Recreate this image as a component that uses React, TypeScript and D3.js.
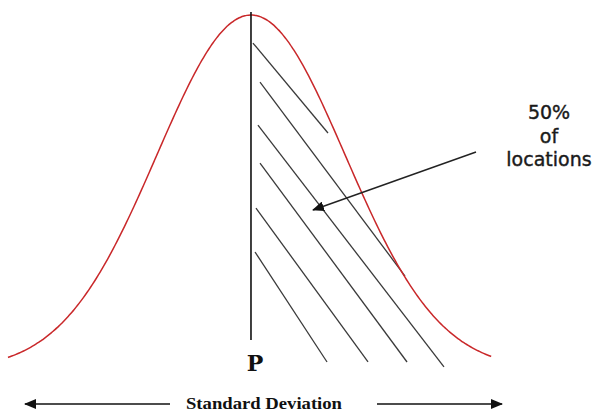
import React from 'react';
import * as d3 from 'd3';

// normal curve, in standard deviations
const MEAN = 0;
const SD = 1;
const X_EXTENT = [-2.585, 2.564];

// hatch strokes: [x0 (sd), y0 (density), x1 (sd), y1 (density)]
const hatchLines: [number, number, number, number][] = [
    [0.021, 0.3674, 0.819, 0.2663],
    [0.096, 0.3236, 1.638, 0.1056],
    [0.074, 0.2753, 2.053, 0.0034],
    [0.096, 0.2326, 1.66, 0.009],
    [0.053, 0.182, 1.245, 0.009],
    [0.043, 0.1326, 0.809, 0.009],
];

const calloutLines = ['50%', 'of', 'locations'];
const markerLabel = 'P';
const axisLabel = 'Standard Deviation';

const W = 599;
const H = 416;

const pdf = (x: number) =>
    Math.exp(-((x - MEAN) ** 2) / (2 * SD * SD)) / (SD * Math.sqrt(2 * Math.PI));

export default function App() {
    const x = d3.scaleLinear().domain(X_EXTENT).range([8, 492]);
    const y = d3.scaleLinear().domain([0, pdf(MEAN)]).range([370, 15]);

    const pts = d3.range(X_EXTENT[0], X_EXTENT[1] + 0.001, 0.02).map(v => [v, pdf(v)] as [number, number]);
    const line = d3.line<[number, number]>()
        .x(d => x(d[0]))
        .y(d => y(d[1]))
        .curve(d3.curveBasis);

    const cx = x(MEAN);

    return (
        <div style={{ position: 'absolute', left: 0, top: 0, width: W, height: H, background: '#fff', overflow: 'hidden' }}>
            <svg width={W} height={H} style={{ display: 'block' }}>
                <defs>
                    <marker id="head" viewBox="0 0 12 10" refX="11" refY="5"
                        markerWidth="12" markerHeight="10" markerUnits="userSpaceOnUse" orient="auto">
                        <path d="M0,0 L12,5 L0,10 Z" fill="#111" />
                    </marker>
                </defs>

                {hatchLines.map((h, i) => (
                    <line key={i}
                        x1={x(h[0])} y1={y(h[1])} x2={x(h[2])} y2={y(h[3])}
                        stroke="#3a3a3a" strokeWidth={1.3} />
                ))}

                <path d={line(pts) || ''} fill="none" stroke="#c9282a" strokeWidth={1.5} />

                <line x1={cx} x2={cx} y1={12} y2={340} stroke="#111" strokeWidth={1.6} />

                <text x={cx + 4} y={371} textAnchor="middle"
                    fontFamily="'DejaVu Serif', serif" fontWeight="bold" fontSize={22} fill="#111">
                    {markerLabel}
                </text>

                {/* callout */}
                <line x1={476} y1={152} x2={313} y2={210} stroke="#222" strokeWidth={1.4} markerEnd="url(#head)" />
                {calloutLines.map((t, i) => (
                    <text key={t} x={549} y={119 + i * 23.5} textAnchor="middle"
                        fontFamily="'DejaVu Sans', sans-serif" fontSize={19} fill="#1a1a1a"
                        stroke="#1a1a1a" strokeWidth={0.4}>
                        {t}
                    </text>
                ))}

                {/* standard deviation axis */}
                <line x1={170} y1={404} x2={25} y2={404} stroke="#111" strokeWidth={1.5} markerEnd="url(#head)" />
                <line x1={377} y1={404} x2={502} y2={404} stroke="#111" strokeWidth={1.5} markerEnd="url(#head)" />
                <text x={264} y={409} textAnchor="middle" textLength={156} lengthAdjust="spacingAndGlyphs"
                    fontFamily="'Liberation Serif', serif" fontWeight="bold" fontSize={17} fill="#111">
                    {axisLabel}
                </text>
            </svg>
        </div>
    );
}
